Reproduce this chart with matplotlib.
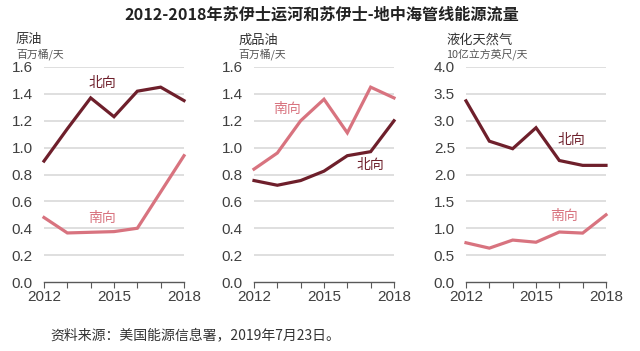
import matplotlib.pyplot as plt
import numpy as np

plt.rcParams['font.family'] = ['Liberation Sans', 'Noto Sans CJK SC', 'DejaVu Sans']

years = [2012, 2013, 2014, 2015, 2016, 2017, 2018]

crude_north = [0.90, 1.14, 1.37, 1.23, 1.42, 1.45, 1.35]
crude_south = [0.48, 0.365, 0.37, 0.375, 0.40, 0.67, 0.94]

product_north = [0.755, 0.72, 0.755, 0.825, 0.94, 0.97, 1.20]
product_south = [0.84, 0.96, 1.20, 1.36, 1.11, 1.45, 1.37]

lng_north = [3.37, 2.62, 2.48, 2.87, 2.26, 2.17, 2.17]
lng_south = [0.73, 0.63, 0.78, 0.74, 0.93, 0.91, 1.25]

titles = ['原油', '成品油', '液化天然气']
units = ['百万桶/天', '百万桶/天', '10亿立方英尺/天']
ymax = [1.6, 1.6, 4.0]
ystep = [0.2, 0.2, 0.5]

north_c = '#6e1f2b'
south_c = '#d8737f'
cjk = ['Noto Sans CJK SC', 'DejaVu Sans']

fig = plt.figure(figsize=(6.4, 3.51), dpi=100)
lefts = [44 / 640, 254 / 640, 466 / 640]
width = 140 / 640
bottom = 1 - 282 / 351
height = (282 - 67) / 351
sub_x = [-0.2, -0.114, -0.143]

series = [(crude_north, crude_south), (product_north, product_south), (lng_north, lng_south)]
# label positions (x, y) for north / south
north_lbl = [(2014.5, 1.48), (2017.0, 0.87), (2016.5, 2.65)]
south_lbl = [(2014.5, 0.48), (2013.4, 1.29), (2016.2, 1.22)]

for i, (n, s) in enumerate(series):
    ax = fig.add_axes([lefts[i], bottom, width, height])
    ax.set_xlim(2012, 2018)
    ax.set_ylim(0, ymax[i])
    yt = np.arange(0, ymax[i] + 1e-9, ystep[i])
    ax.set_yticks(yt)
    ax.set_yticklabels([f'{v:.1f}' for v in yt])
    ax.set_xticks(years)
    ax.set_xticklabels(['2012', '', '', '2015', '', '', '2018'])
    for v in yt[1:]:
        ax.axhline(v, color='#dcdcdc', lw=1.3, zorder=1)
    ax.plot(years, n, color=north_c, lw=2.3, zorder=3, clip_on=False, solid_joinstyle='miter')
    ax.plot(years, s, color=south_c, lw=2.3, zorder=3, clip_on=False, solid_joinstyle='miter')
    ax.text(*north_lbl[i], '北向', color=north_c, fontsize=10, ha='center', va='center', family=cjk)
    ax.text(*south_lbl[i], '南向', color=south_c, fontsize=10, ha='center', va='center', family=cjk)
    for sp in ['top', 'right', 'left']:
        ax.spines[sp].set_visible(False)
    ax.spines['bottom'].set_color('#595959')
    ax.spines['bottom'].set_linewidth(1.0)
    ax.tick_params(axis='y', length=0, labelsize=11, labelcolor='#404040', pad=8)
    ax.tick_params(axis='x', length=4, direction='out', color='#595959', labelsize=11,
                   labelcolor='#404040', pad=2)
    ax.text(sub_x[i], 1.126, titles[i], transform=ax.transAxes, fontsize=9.5,
            color='#333333', family=cjk, va='center')
    ax.text(sub_x[i], 1.06, units[i], transform=ax.transAxes, fontsize=7.8,
            color='#555555', family=cjk, va='center')

fig.text(0.502, 1 - 15 / 351, '2012-2018年苏伊士运河和苏伊士-地中海管线能源流量', ha='center', va='center',
         fontsize=11.6, fontweight='bold', family=cjk, color='#222222')
fig.text(50 / 640, 1 - 335 / 351, '资料来源：美国能源信息署，2019年7月23日。', ha='left', va='center',
         fontsize=10, family=cjk, color='#333333')

fig.savefig('out.png', dpi=100)
